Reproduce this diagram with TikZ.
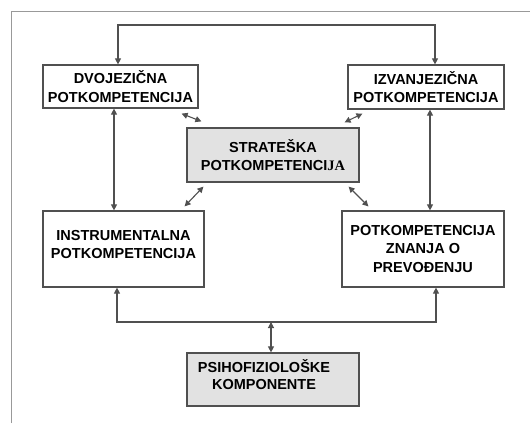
\documentclass[tikz,border=0pt]{standalone}
\usepackage{fontspec}
\setmainfont{Liberation Sans}
\newfontfamily\serifjb{Liberation Serif}
\usetikzlibrary{arrows.meta}
\definecolor{linegray}{HTML}{505050}
\definecolor{boxfill}{HTML}{E2E2E2}
\tikzset{
  txt/.style={align=center, inner sep=0pt, font=\fontsize{14.5}{18.5}\selectfont\bfseries},
  box/.style={txt, draw=linegray, line width=1.2pt, fill=white},
  graybox/.style={box, fill=boxfill},
  conn/.style={draw=linegray, line width=1.1pt, {Triangle[length=6pt,width=6pt]}-{Triangle[length=6pt,width=6pt]}},
}
\begin{document}
\begin{tikzpicture}[x=1pt,y=-1pt]
\useasboundingbox (0,0) rectangle (530,423);
\draw[gray!80, line width=1pt] (11,423) -- (11,11) -- (530,11);
\node[box, minimum width=155pt, minimum height=43pt] (dvo) at (120.5,86.5) {DVOJEZIČNA\\POTKOMPETENCIJA};
\node[box, minimum width=156pt, minimum height=44pt] (izv) at (426,87) {IZVANJEZIČNA\\POTKOMPETENCIJA};
\node[graybox, minimum width=172pt, minimum height=54pt] (str) at (273,155) {STRATEŠKA\\POTKOMPETENCI{\serifjb JA}};
\node[box, minimum width=161pt, minimum height=76pt] (ins) at (123.5,249) {};
\node[txt] (inst) at (123.5,244.5) {INSTRUMENTALNA\\POTKOMPETENCIJA};
\node[box, minimum width=162pt, minimum height=76pt] (pot) at (423,249) {POTKOMPETENCIJA\\ZNANJA O\\PREVOĐENJU};
\node[graybox, minimum width=172pt, minimum height=53pt] (psi) at (273,379.5) {};
\node[txt, font=\fontsize{14.5}{17}\selectfont\bfseries] (psit) at (264,375) {PSIHOFIZIOLOŠKE\\KOMPONENTE};
% top link
\coordinate (tl) at (118,25);
\coordinate (tr) at (435,25);
\draw[conn] (tl |- dvo.north) -- (tl) -- (tr) -- (tr |- izv.north);
% verticals
\coordinate (lv) at (114,0);
\coordinate (rv) at (430,0);
\draw[conn] (lv |- dvo.south) -- (lv |- ins.north);
\draw[conn] (rv |- izv.south) -- (rv |- pot.north);
% diagonals
\draw[conn] ([shift={(-17,5)}]dvo.south east) -- ([shift={(15,-6)}]str.north west);
\draw[conn] ([shift={(15,4)}]izv.south west) -- ([shift={(-15,-5)}]str.north east);
\draw[conn] ([shift={(17,4)}]str.south west) -- ([shift={(-20,-4)}]ins.north east);
\draw[conn] ([shift={(-11,4)}]str.south east) -- ([shift={(27,-4)}]pot.north west);
% bottom
\coordinate (bl) at (117,322);
\coordinate (br) at (436,322);
\coordinate (bm) at (271,322);
\draw[conn] (bl |- ins.south) -- (bl) -- (br) -- (br |- pot.south);
\draw[conn] (bm) -- (bm |- psi.north);
\end{tikzpicture}
\end{document}
